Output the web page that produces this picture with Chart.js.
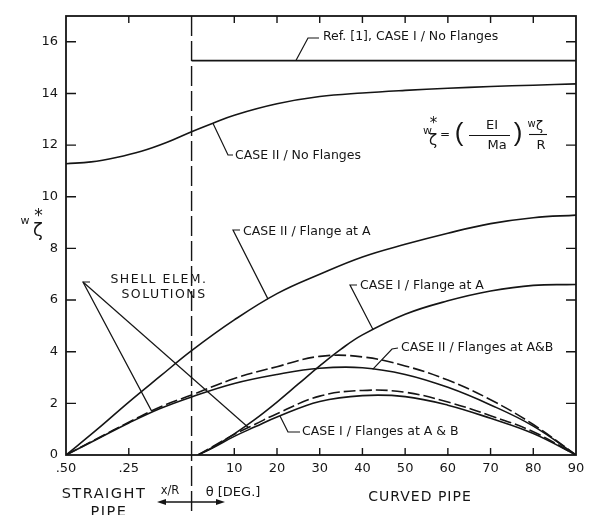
<!DOCTYPE html>
<html><head><meta charset="utf-8">
<script src="https://cdn.jsdelivr.net/npm/chart.js@4.4.0/dist/chart.umd.min.js"></script>
<style>html,body{margin:0;padding:0;background:#fff;}#wrap{width:596px;height:515px;}</style>
</head><body><div id="wrap"><canvas id="c" width="596" height="515"></canvas></div>
<script>
// ---------- DATA ----------
// Straight pipe positions are x/R (0.50 ... 0), curved pipe positions are θ in degrees.
const xTickValuesXR = [0.5, 0.25];
const xTickLabelsXR = ['.50', '.25'];
const xTickValuesDeg = [10, 20, 30, 40, 50, 60, 70, 80, 90];
const xTickLabelsDeg = ['10', '20', '30', '40', '50', '60', '70', '80', '90'];
const yTickValues = [0, 2, 4, 6, 8, 10, 12, 14, 16];

// Ref. [1], CASE I / No Flanges
const refDeg = [0, 90];
const refVal = [15.27, 15.27];

// CASE II / No Flanges
const c2NoXR = [0.5, 0.4, 0.3, 0.2, 0.1, 0];
const c2NoXRVal = [11.28, 11.35, 11.52, 11.76, 12.1, 12.52];
const c2NoDeg = [5, 10, 20, 30, 40, 50, 60, 70, 80, 90];
const c2NoDegVal = [12.85, 13.16, 13.6, 13.88, 14.02, 14.12, 14.2, 14.27, 14.32, 14.37];

// CASE II / Flange at A
const c2AXR = [0.5, 0.375, 0.25, 0.125, 0];
const c2AXRVal = [0, 1.0, 2.05, 3.05, 4.04];
const c2ADeg = [10, 20, 30, 40, 50, 60, 70, 80, 90];
const c2ADegVal = [5.23, 6.25, 7.0, 7.67, 8.16, 8.59, 8.96, 9.19, 9.29];

// CASE I / Flange at A
const c1ADeg = [1.5, 5, 10, 15, 20, 25, 30, 35, 40, 50, 60, 70, 80, 90];
const c1ADegVal = [0, 0.3, 0.82, 1.4, 2.05, 2.75, 3.45, 4.1, 4.65, 5.45, 5.97, 6.35, 6.57, 6.6];

// CASE II / Flanges at A&B  (analysis, solid)
const c2ABXR = [0.5, 0.375, 0.25, 0.125, 0];
const c2ABXRVal = [0, 0.62, 1.24, 1.8, 2.25];
const c2ABDeg = [10, 20, 30, 40, 50, 60, 70, 80, 90];
const c2ABDegVal = [2.77, 3.12, 3.36, 3.38, 3.12, 2.62, 1.94, 1.12, 0];

// CASE II / Flanges at A&B  (shell element solution, dashed)
const c2ABShellXR = [0.5, 0.375, 0.25, 0.125, 0];
const c2ABShellXRVal = [0, 0.64, 1.27, 1.86, 2.32];
const c2ABShellDeg = [10, 20, 30, 40, 50, 60, 70, 80, 90];
const c2ABShellDegVal = [2.96, 3.42, 3.82, 3.8, 3.45, 2.9, 2.14, 1.18, 0];

// CASE I / Flanges at A & B  (analysis, solid)
const c1ABDeg = [1.5, 5, 10, 15, 20, 30, 40, 50, 60, 70, 80, 90];
const c1ABDegVal = [0, 0.28, 0.72, 1.1, 1.47, 2.07, 2.3, 2.26, 1.93, 1.42, 0.83, 0];

// CASE I / Flanges at A & B  (shell element solution, dashed)
const c1ABShellDeg = [1.5, 5, 10, 15, 20, 30, 40, 50, 60, 70, 80, 90];
const c1ABShellDegVal = [0, 0.33, 0.8, 1.2, 1.6, 2.28, 2.5, 2.43, 2.05, 1.52, 0.9, 0];

// ---------- LAYOUT ----------
const XR_SPAN = 29.4;               // axis width given to x/R 0.50..0 (in degree units)
const K = XR_SPAN / 0.5;
const fromXR = xr => -xr * K;
const FONT = '"DejaVu Sans", "Liberation Sans", sans-serif';
const INK = '#151515';

function build(xr, xrv, deg, degv) {
  const p = [];
  (xr || []).forEach((v, i) => p.push({x: fromXR(v), y: xrv[i]}));
  (deg || []).forEach((v, i) => p.push({x: v, y: degv[i]}));
  return p.sort((a, b) => a.x - b.x);
}
const DASH = [12, 4];
function ds(data, dashed, lw) {
  return {data, borderColor: INK, borderWidth: lw || 1.6, pointRadius: 0, fill: false,
    tension: 0.4, borderDash: dashed ? DASH : [], borderCapStyle: 'butt'};
}
const sRef = build(null, null, refDeg, refVal);
const sC2No = build(c2NoXR, c2NoXRVal, c2NoDeg, c2NoDegVal);
const sC2A = build(c2AXR, c2AXRVal, c2ADeg, c2ADegVal);
const sC1A = build(null, null, c1ADeg, c1ADegVal);
const sC2AB = build(c2ABXR, c2ABXRVal, c2ABDeg, c2ABDegVal);
const sC2ABs = build(c2ABShellXR, c2ABShellXRVal, c2ABShellDeg, c2ABShellDegVal);
const sC1AB = build(null, null, c1ABDeg, c1ABDegVal);
const sC1ABs = build(null, null, c1ABShellDeg, c1ABShellDegVal);

const xTickValues = xTickValuesXR.map(fromXR).concat(xTickValuesDeg);
const xTickLabels = xTickLabelsXR.concat(xTickLabelsDeg);

function interp(pts, x) {
  for (let i = 0; i < pts.length - 1; i++) {
    if (x >= pts[i].x && x <= pts[i + 1].x) {
      const t = (x - pts[i].x) / (pts[i + 1].x - pts[i].x);
      return pts[i].y + t * (pts[i + 1].y - pts[i].y);
    }
  }
  return pts[pts.length - 1].y;
}

function txt(ctx, s, x, y, size, align, opts) {
  opts = opts || {};
  ctx.save();
  ctx.font = (opts.style || '') + ' ' + size + 'px ' + (opts.family || FONT);
  ctx.fillStyle = INK;
  ctx.textAlign = align || 'left';
  ctx.textBaseline = 'middle';
  if (opts.ls) ctx.letterSpacing = opts.ls;
  ctx.fillText(s, x, y);
  ctx.restore();
}
function poly(ctx, pts, lw) {
  ctx.save();
  ctx.strokeStyle = INK; ctx.lineWidth = lw || 1.2; ctx.setLineDash([]);
  ctx.beginPath(); ctx.moveTo(pts[0][0], pts[0][1]);
  for (let i = 1; i < pts.length; i++) ctx.lineTo(pts[i][0], pts[i][1]);
  ctx.stroke(); ctx.restore();
}

const decor = {
  id: 'decor',
  afterDatasetsDraw(chart) {
    const ctx = chart.ctx, a = chart.chartArea;
    const xs = chart.scales.x, ys = chart.scales.y;
    const P = (u, v) => [xs.getPixelForValue(u), ys.getPixelForValue(v)];
    const onCurve = (pts, u) => P(u, interp(pts, u));

    // frame
    ctx.save();
    ctx.strokeStyle = INK; ctx.lineWidth = 1.8;
    ctx.strokeRect(a.left, a.top, a.right - a.left, a.bottom - a.top);
    // inward ticks
    ctx.lineWidth = 1.4;
    ctx.beginPath();
    xTickValues.forEach(v => {
      if (v <= xs.min || v >= xs.max) return;
      const px = xs.getPixelForValue(v);
      ctx.moveTo(px, a.bottom); ctx.lineTo(px, a.bottom - 7);
      ctx.moveTo(px, a.top); ctx.lineTo(px, a.top + 7);
    });
    yTickValues.forEach(v => {
      if (v <= ys.min) return;
      const py = ys.getPixelForValue(v);
      ctx.moveTo(a.left, py); ctx.lineTo(a.left + 10, py);
      ctx.moveTo(a.right, py); ctx.lineTo(a.right - 10, py);
    });
    ctx.stroke();
    // straight / curved junction (dashed)
    const x0 = xs.getPixelForValue(0);
    ctx.setLineDash([20, 5]);
    ctx.lineWidth = 1.4;
    ctx.beginPath(); ctx.moveTo(x0, a.top); ctx.lineTo(x0, 511); ctx.stroke();
    ctx.restore();

    // leader lines + labels
    const tA = onCurve(sRef, 24.4);
    poly(ctx, [tA, [308, 38], [319, 38]]);
    txt(ctx, 'Ref. [1], CASE I / No Flanges', 323, 37, 12.5);

    const tB = onCurve(sC2No, 5.0);
    poly(ctx, [tB, [228, 155], [233, 155]]);
    txt(ctx, 'CASE II / No Flanges', 235, 156, 12.5);

    const tC = onCurve(sC2A, 17.9);
    poly(ctx, [tC, [233, 230], [240, 230]]);
    txt(ctx, 'CASE II / Flange at A', 243, 232, 12.5);

    const tD = onCurve(sC1A, 42.5);
    poly(ctx, [tD, [350, 285], [357, 285]]);
    txt(ctx, 'CASE I / Flange at A', 360, 286, 12.5);

    const tE = onCurve(sC2AB, 42.4);
    poly(ctx, [tE, [392, 349], [398, 348]]);
    txt(ctx, 'CASE II / Flanges at A&B', 401, 348, 12.5);

    const tF = onCurve(sC1AB, 20.7);
    poly(ctx, [tF, [288, 432], [300, 432]]);
    txt(ctx, 'CASE I / Flanges at A & B', 302, 432, 12.5);

    // shell element solutions
    const g1 = onCurve(sC2ABs, fromXR(0.159));
    const g2 = onCurve(sC1ABs, 13.3);
    poly(ctx, [[90, 282], [83, 282], g1]);
    poly(ctx, [[83, 282], g2]);
    txt(ctx, 'SHELL ELEM.', 159, 280, 12.5, 'center', {ls: '1.5px'});
    txt(ctx, 'SOLUTIONS', 164, 295, 12.5, 'center', {ls: '1.5px'});

    // formula  w*ζ = (EI/Ma) wζ/R
    txt(ctx, 'w', 427.5, 131, 11, 'center');
    txt(ctx, '*', 433.5, 124, 15, 'center');
    txt(ctx, 'ζ', 433, 141, 15, 'center');
    txt(ctx, '=', 445, 135, 12, 'center');
    txt(ctx, '(', 459, 134, 26, 'center', {family: '"Liberation Sans", sans-serif'});
    txt(ctx, 'EI', 492, 126, 13, 'center');
    poly(ctx, [[469, 135.5], [510, 135.5]], 1.1);
    txt(ctx, 'Ma', 497, 146, 13, 'center');
    txt(ctx, ')', 518, 134, 26, 'center', {family: '"Liberation Sans", sans-serif'});
    txt(ctx, 'w', 531.5, 124, 10, 'center');
    txt(ctx, 'ζ', 539.5, 127, 13, 'center');
    poly(ctx, [[529, 134.5], [547, 134.5]], 1.1);
    txt(ctx, 'R', 541, 146, 13, 'center');

    // y-axis title  w ζ *
    txt(ctx, 'w', 25, 221, 11, 'center');
    txt(ctx, '*', 38.5, 217, 17, 'center');
    txt(ctx, 'ζ', 38, 231, 18, 'center');

    // under-axis labels
    txt(ctx, 'STRAIGHT', 104, 494, 14.5, 'center', {ls: '1.5px'});
    txt(ctx, 'PIPE', 109, 512, 14.5, 'center', {ls: '1.5px'});
    txt(ctx, 'x/R', 170, 491, 11.5, 'center');
    txt(ctx, 'θ [DEG.]', 233, 493, 13, 'center');
    txt(ctx, 'CURVED PIPE', 420, 497, 14, 'center', {ls: '1px'});
    // double arrow
    ctx.save();
    ctx.strokeStyle = INK; ctx.fillStyle = INK; ctx.lineWidth = 1.3;
    ctx.beginPath(); ctx.moveTo(162, 502); ctx.lineTo(220, 502); ctx.stroke();
    ctx.beginPath(); ctx.moveTo(157, 502); ctx.lineTo(166, 499); ctx.lineTo(166, 505); ctx.closePath(); ctx.fill();
    ctx.beginPath(); ctx.moveTo(225, 502); ctx.lineTo(216, 499); ctx.lineTo(216, 505); ctx.closePath(); ctx.fill();
    ctx.restore();
  }
};

new Chart(document.getElementById('c'), {
  type: 'line',
  data: {
    datasets: [
      ds(sRef), ds(sC2No), ds(sC2A), ds(sC1A),
      ds(sC2AB), ds(sC2ABs, true), ds(sC1AB), ds(sC1ABs, true)
    ]
  },
  options: {
    responsive: false,
    animation: false,
    events: [],
    layout: {padding: {top: 16, right: 20, left: 0, bottom: 0}},
    plugins: {legend: {display: false}, tooltip: {enabled: false}},
    scales: {
      x: {
        type: 'linear', min: fromXR(0.5), max: 90,
        afterBuildTicks: s => { s.ticks = xTickValues.map(v => ({value: v})); },
        afterFit: s => { s.height = 60; },
        ticks: {callback: (v, i) => xTickLabels[i], autoSkip: false, maxRotation: 0, minRotation: 0,
                padding: 6, color: INK, font: {size: 13, family: FONT}},
        grid: {display: false, drawTicks: false},
        border: {display: false}
      },
      y: {
        type: 'linear', min: 0, max: 17,
        afterBuildTicks: s => { s.ticks = yTickValues.map(v => ({value: v})); },
        afterFit: s => { s.width = 66; },
        ticks: {callback: v => String(v), padding: 8, color: INK, font: {size: 13, family: FONT}},
        grid: {display: false, drawTicks: false},
        border: {display: false}
      }
    }
  },
  plugins: [decor]
});
</script>
</body></html>
